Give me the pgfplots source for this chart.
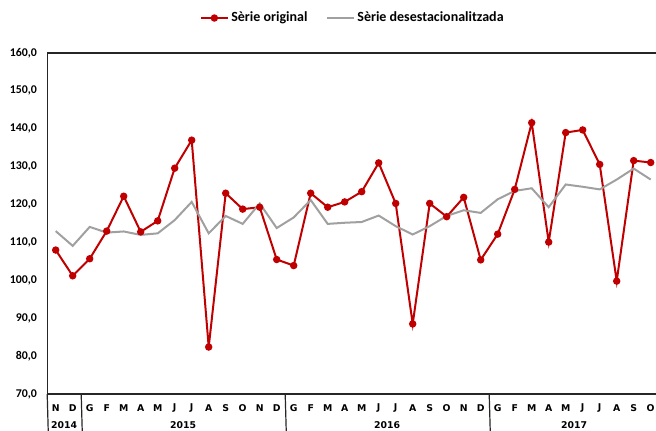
\documentclass[border=0pt]{standalone}
\usepackage{fontspec}
\setmainfont{Carlito}
\newfontfamily\dejavu{DejaVu Sans}
\usepackage{pgfplots}
\pgfplotsset{compat=1.18}
\definecolor{serred}{HTML}{C00000}
\definecolor{sergray}{HTML}{A0A0A0}

\begin{document}
\begin{tikzpicture}
\useasboundingbox (0,0) rectangle (492pt,322.5pt);
\begin{axis}[
    at={(35.4pt,27pt)}, anchor=south west,
    scale only axis, width=459pt, height=255.75pt,
    xmin=-0.5, xmax=35.5, ymin=70, ymax=160,
    ytick={70,80,...,160},
    xtick={0,...,35},
    xticklabels={N,D,G,F,M,A,M,J,J,A,S,O,N,D,G,F,M,A,M,J,J,A,S,O,N,D,G,F,M,A,M,J,J,A,S,O},
    major tick length=0pt,
    axis line style={line width=0.9pt, black!85},
    clip=false,
    /pgf/number format/.cd, fixed, fixed zerofill, precision=1, use comma, assume math mode=true,
    /pgfplots/.cd,
    y tick label style={font=\bfseries\fontsize{8.9}{10}\selectfont, anchor=east, inner sep=0pt, xshift=-7.5pt},
    x tick label style={font=\dejavu\bfseries\fontsize{7}{8}\selectfont, anchor=center, inner sep=0pt, yshift=-10.5pt},
    legend columns=2,
    legend style={at={(0.5,1.1026)}, anchor=center, draw=none, fill=none,
        font=\bfseries\fontsize{10.5}{12}\selectfont,
        /tikz/every even column/.append style={column sep=12pt}},
    legend image code/.code={\draw[mark repeat=2,mark phase=2] plot coordinates {(0cm,0cm) (0.35cm,0cm) (0.7cm,0cm)};},
]
\addplot[serred, line width=1.5pt, mark=*, mark size=2pt, mark options={fill=serred, draw=serred}] coordinates {
(0,108.0) (1,101.2) (2,105.7) (3,113.0) (4,122.2) (5,112.8) (6,115.7) (7,129.6) (8,137.0) (9,82.4)
(10,123.0) (11,118.8) (12,119.3) (13,105.5) (14,103.9) (15,123.0) (16,119.3) (17,120.7) (18,123.4) (19,131.0)
(20,120.3) (21,88.5) (22,120.3) (23,116.8) (24,121.9) (25,105.4) (26,112.2) (27,124.0) (28,141.6) (29,110.1)
(30,139.0) (31,139.7) (32,130.6) (33,99.8) (34,131.6) (35,131.1)
};
\addlegendentry{Sèrie original}
\addplot[sergray, line width=1.5pt, mark=none] coordinates {
(0,113.0) (1,109.1) (2,114.1) (3,112.6) (4,112.9) (5,112.0) (6,112.4) (7,115.9) (8,120.7) (9,112.4)
(10,117.0) (11,114.9) (12,120.3) (13,113.8) (14,116.6) (15,121.2) (16,114.9) (17,115.2) (18,115.4) (19,117.1)
(20,114.3) (21,112.1) (22,114.3) (23,117.0) (24,118.5) (25,117.8) (26,121.4) (27,123.6) (28,124.3) (29,119.3)
(30,125.3) (31,124.7) (32,124.0) (33,126.6) (34,129.5) (35,126.6)
};
\addlegendentry{Sèrie desestacionalitzada}
% category table below the axis
\draw[line width=0.9pt, black!85] (axis cs:-0.5,70) -- ++(0,-30pt);
\draw[line width=0.9pt, black!85] (axis cs:1.5,70) -- ++(0,-30pt);
\draw[line width=0.9pt, black!85] (axis cs:13.5,70) -- ++(0,-30pt);
\draw[line width=0.9pt, black!85] (axis cs:25.5,70) -- ++(0,-30pt);
\node[font=\dejavu\bfseries\fontsize{7}{8}\selectfont, inner sep=0pt] at ([yshift=-23pt]axis cs:0.5,70) {2014};
\node[font=\dejavu\bfseries\fontsize{7}{8}\selectfont, inner sep=0pt] at ([yshift=-23pt]axis cs:7.5,70) {2015};
\node[font=\dejavu\bfseries\fontsize{7}{8}\selectfont, inner sep=0pt] at ([yshift=-23pt]axis cs:19.5,70) {2016};
\node[font=\dejavu\bfseries\fontsize{7}{8}\selectfont, inner sep=0pt] at ([yshift=-23pt]axis cs:30.5,70) {2017};
\end{axis}
\end{tikzpicture}
\end{document}
